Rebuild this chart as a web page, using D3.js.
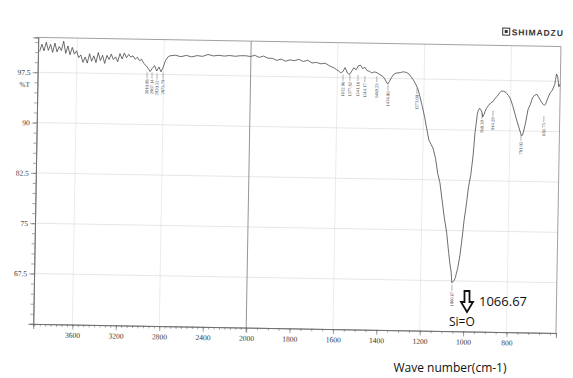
<!DOCTYPE html>
<html><head><meta charset="utf-8">
<script src="https://cdn.jsdelivr.net/npm/d3@7"></script>
<style>
html,body{margin:0;padding:0;background:#fff;}
svg{display:block;}
</style></head>
<body>
<svg id="chart" width="573" height="378"></svg>
<script>
// ---- data ----
const wavenumbers = [
 3945,3925,3905,3885,3865,3845,3825,3805,3785,3765,3745,3725,3705,3685,3665,3645,3625,3605,3585,3565,
 3545,3525,3505,3485,3465,3445,3425,3405,3385,3365,3345,3325,3305,3285,3265,3245,3225,3205,3185,3165,
 3145,3125,3105,3085,3065,3045,3025,3005,2985,2965,2945,2925,2905,2885,2865,2845,2825,2805,2785,2765,
 2745,2695,2645,2595,2545,2495,2445,2395,2345,2295,2245,2195,2145,2095,2045,
 2003,1983,1962,1942,1921,1901,1881,1861,1840,1820,1799,1779,1758,1738,1718,1698,1677,1657,1636,1615,
 1606,1595,1585,1575,1565,1554,1544,1534,1525,1514,1504,1494,1484,1474,1463,1452,1443,1433,1423,1412,
 1402,1391,1381,1371,1366,1361,1351,1341,1331,1310,1300,1290,1280,1270,1260,1249,1238,1228,1218,1206,
 1195,1184,1173,1163,1152,1141,1130,1119,1107,1096,1084,1073,1067,1060,1056,1050,1045,1040,1036,1030,
 1021,1013,1005,995,987,977,968,961,956,952,947,942,937,931,927,921,916,912,902,892,
 881,872,862,852,842,832,821,811,801,790,779,769,757,747,742,737,728,719,708,699,
 689,679,669,658,648,643,638,628,618,609,598,594,590,584,579,573
];
const transmittance = [
 100.6,101.7,100.7,102.0,100.8,101.7,100.5,101.9,100.6,101.4,100.8,102.2,100.4,101.5,100.2,101.3,100.3,100.8,99.8,100.2,
 99.1,99.9,99.0,100.4,99.3,100.1,99.1,100.6,99.4,100.2,99.0,100.2,99.6,100.4,99.6,100.0,99.3,100.5,99.7,100.6,
 99.9,100.4,100.0,100.2,99.7,100.0,99.5,99.7,99.1,98.8,98.4,97.9,98.4,98.8,98.0,98.6,97.9,98.6,99.6,100.1,
 100.3,100.4,100.2,100.4,100.2,100.4,100.3,100.6,100.4,100.5,100.4,100.5,100.4,100.5,100.5,
 100.4,100.6,100.3,100.5,100.2,100.2,99.9,100.1,99.8,100.0,99.9,100.1,99.8,100.0,99.6,99.7,99.5,99.6,99.2,98.9,
 98.7,98.5,98.2,98.4,99.0,98.2,98.0,98.5,99.0,98.7,99.3,99.4,98.9,99.1,98.6,98.5,98.3,98.4,98.4,98.2,
 98.0,97.8,97.4,96.8,96.7,97.0,97.6,98.1,98.3,98.4,98.5,98.5,98.4,98.2,97.8,97.3,96.7,96.0,94.9,93.4,
 91.9,90.1,88.4,87.8,87.1,85.7,83.5,82.1,79.4,76.9,74.7,71.7,70.2,68.8,67.2,67.4,67.6,68.0,68.6,69.4,
 71.3,73.6,76.4,79.0,81.5,83.4,86.3,89.7,91.1,92.4,93.0,93.3,93.1,92.7,92.0,92.4,92.9,93.2,93.7,94.1,
 94.3,94.8,95.1,95.6,95.9,95.9,95.7,95.3,94.8,93.8,92.6,91.5,90.3,89.3,89.4,90.0,91.4,93.2,94.0,95.0,
 95.4,95.5,95.0,94.4,94.0,93.9,94.1,95.0,95.8,96.1,97.0,97.8,98.6,98.1,96.7,97.1
];
const peakLabels = ["3010.98","2967.14","2920.52","2873.79","1652.96","1577.82","1541.16","1514.17","1489.23","1456.06","1273.00","948.39","914.29","781.05","681.75","1066.67"];
const peakPositions = [2953,2907,2861,2806,1574,1542,1505,1473,1418,1366,1232,930,880,749,645,1055];
const peakLabelTops = [82,82,83,82,81,81,81,82,82,90,93,117,114,138,119,289];
const xTickLabels = [3600,3200,2800,2400,2000,1800,1600,1400,1200,1000,800];
const yTickLabels = [97.5,90,82.5,75,67.5];

// ---- scales (page drawn flat, then tilted like the scan) ----
const svg = d3.select("#chart");
const L = 35.7, R = 558.5, T = 42, B = 328.5;
const x = d3.scaleLinear().domain([3960, 2000, 572]).range([L, 248.7, R]);
const y = d3.scaleLinear().domain([60, 102.7]).range([B, T]);
const serif = "'Liberation Serif','DejaVu Serif',serif";
const frameCol = "#6a6a6a";

const page = svg.append("g").attr("transform", "rotate(1,300,185)");

// grid
const grid = page.append("g");
grid.selectAll("line.h").data(yTickLabels).join("line")
  .attr("x1", L).attr("x2", R).attr("y1", d => y(d)).attr("y2", d => y(d))
  .attr("stroke", "#d6d6d6").attr("stroke-width", 0.6);
const vGrid = [3600, 2800, 1600, 1200, 800];
grid.selectAll("line.v").data(vGrid).join("line")
  .attr("x1", d => x(d)).attr("x2", d => x(d)).attr("y1", T).attr("y2", B)
  .attr("stroke", "#dddddd").attr("stroke-width", 0.6);
grid.append("line").attr("x1", x(2000)).attr("x2", x(2000)).attr("y1", T).attr("y2", B + 5)
  .attr("stroke", "#8a8a8a").attr("stroke-width", 0.9);

// frame top/right
page.append("line").attr("x1", L).attr("x2", R).attr("y1", T).attr("y2", T).attr("stroke", "#8a8a8a").attr("stroke-width", 0.8);
page.append("line").attr("x1", R).attr("x2", R).attr("y1", T).attr("y2", B).attr("stroke", "#8a8a8a").attr("stroke-width", 0.8);

// x axis
const minorUpper = d3.range(3950, 2000, -50);
const minorLower = d3.range(2000, 572, -50);
const xMinor = page.append("g").attr("transform", `translate(0,${B})`)
  .call(d3.axisBottom(x).tickValues(minorUpper.concat(minorLower)).tickSize(2.5).tickFormat(""));
const xAxis = page.append("g").attr("transform", `translate(0,${B})`)
  .call(d3.axisBottom(x).tickValues(xTickLabels).tickSize(5).tickPadding(3).tickFormat(d3.format("d")));
[xMinor, xAxis].forEach(g => {
  g.select(".domain").attr("stroke", frameCol).attr("stroke-width", 0.8);
  g.selectAll(".tick line").attr("stroke", frameCol).attr("stroke-width", 0.6);
});
xAxis.selectAll("text").attr("font-family", serif).attr("font-size", 7.5).attr("fill", "#333");

// y axis
const yMinor = page.append("g").attr("transform", `translate(${L},0)`)
  .call(d3.axisLeft(y).tickValues(d3.range(60, 102.7, 1.5)).tickSize(3).tickFormat(""));
const yAxis = page.append("g").attr("transform", `translate(${L},0)`)
  .call(d3.axisLeft(y).tickValues(yTickLabels).tickSize(5).tickPadding(2).tickFormat(d => String(d)));
[yMinor, yAxis].forEach(g => {
  g.select(".domain").attr("stroke", frameCol).attr("stroke-width", 0.8);
  g.selectAll(".tick line").attr("stroke", frameCol).attr("stroke-width", 0.6);
});
yAxis.selectAll("text").attr("font-family", serif).attr("font-size", 7.5).attr("fill", "#333");
page.append("text").attr("x", 28).attr("y", y(95.3)).attr("text-anchor", "end")
  .attr("font-family", serif).attr("font-size", 7).attr("fill", "#333").text("%T");

// spectrum
const pts = wavenumbers.map((w, i) => [w, transmittance[i]]);
page.append("path").datum(pts)
  .attr("fill", "none").attr("stroke", "#4a4a4a").attr("stroke-width", 0.8)
  .attr("d", d3.line().x(d => x(d[0])).y(d => y(d[1])));

// peak labels
const peakG = page.append("g");
peakLabels.forEach((lab, i) => {
  const px = x(peakPositions[i]);
  const top = peakLabelTops[i];
  peakG.append("line").attr("x1", px).attr("x2", px).attr("y1", top - 7).attr("y2", top - 1)
    .attr("stroke", "#666").attr("stroke-width", 0.5);
  peakG.append("text").attr("transform", `translate(${px + 1.6},${top}) rotate(-90)`)
    .attr("text-anchor", "end").attr("font-family", serif).attr("font-size", 4.6).attr("fill", "#444").text(lab);
});

// brand
const brand = page.append("g");
brand.append("rect").attr("x", 500).attr("y", 24.5).attr("width", 7).attr("height", 7).attr("fill", "none").attr("stroke", "#333").attr("stroke-width", 1);
brand.append("rect").attr("x", 502).attr("y", 26.5).attr("width", 3).attr("height", 3).attr("fill", "#333");
brand.append("text").attr("x", 509).attr("y", 31.5).attr("font-family", "'Liberation Sans',Arial,sans-serif")
  .attr("font-weight", "bold").attr("font-size", 8.5).attr("letter-spacing", 0.9).attr("fill", "#333").text("SHIMADZU");

// annotations (added flat on top of the scan)
const ann = svg.append("g");
const ax = 467, ay = 291;
ann.append("path").attr("d", `M${ax-2.5},${ay} L${ax+2.5},${ay} L${ax+2.5},${ay+11} L${ax+6},${ay+11} L${ax},${ay+21} L${ax-6},${ay+11} L${ax-2.5},${ay+11} Z`)
  .attr("fill", "#fff").attr("stroke", "#111").attr("stroke-width", 1.8).attr("stroke-linejoin", "miter");
ann.append("text").attr("x", 479).attr("y", 306).attr("font-family", "'Open Sans',sans-serif").attr("font-size", 13).attr("fill", "#111").text("1066.67");
ann.append("text").attr("x", 449).attr("y", 326).attr("font-family", "'Open Sans',sans-serif").attr("font-size", 12).attr("fill", "#111").text("Si=O");
ann.append("text").attr("x", 450).attr("y", 372).attr("text-anchor", "middle").attr("font-family", "'Open Sans',sans-serif").attr("font-size", 12).attr("fill", "#111").text("Wave number(cm-1)");
</script>
</body></html>
